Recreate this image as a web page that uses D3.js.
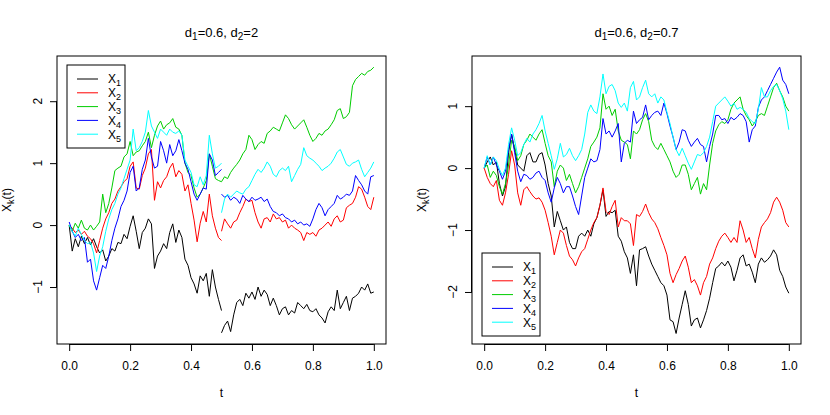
<!DOCTYPE html>
<html lang="en">
<head>
<meta charset="utf-8">
<script src="https://cdnjs.cloudflare.com/ajax/libs/d3/7.8.5/d3.min.js"></script>
<style>
  body { margin: 0; background: #fff; }
  svg text { font-family: "Liberation Sans", Arial, Helvetica, sans-serif; fill: #000; }
</style>
</head>
<body>
<svg width="830" height="415"></svg>
<script>
// ---- data (value per t step of 0.01) ----
var seriesNames = ["1", "2", "3", "4", "5"];
var seriesColors = ["#000000", "#ff0000", "#00cd00", "#0000ff", "#00ffff"];
var xTicks = [0, 0.2, 0.4, 0.6, 0.8, 1.0];
var yTicksLeft = [-1, 0, 1, 2];
var yTicksRight = [-2, -1, 0, 1];
var yDomainLeft = [-1.92, 2.73];
var yDomainRight = [-2.84, 1.81];

// left panel: paths jump at t = 0.5, so two pieces each (t 0..0.5 and 0.5..1)
var leftX1pre = [0.0, -0.42, -0.22, -0.35, -0.18, -0.3, -0.2, -0.32, -0.22, -0.35,
  -0.45, -0.4, -0.58, -0.5, -0.38, -0.42, -0.28, -0.3, -0.15, -0.22,
  -0.02, 0.15, -0.1, -0.38, -0.12, -0.05, 0.1, 0.02, -0.7, -0.5,
  -0.42, -0.3, -0.38, -0.12, 0.02, -0.28, -0.08, -0.2, -0.55, -0.65,
  -0.85, -0.95, -1.1, -0.82, -0.9, -0.78, -1.15, -0.72, -1.0, -1.2,
  -1.38];
var leftX1post = [-1.74, -1.62, -1.55, -1.72, -1.45, -1.25, -1.2, -1.3, -1.1, -1.18,
  -1.08, -1.2, -1.0, -1.15, -1.05, -1.12, -1.3, -1.18, -1.3, -1.45,
  -1.35, -1.32, -1.45, -1.38, -1.42, -1.25, -1.3, -1.35, -1.28, -1.38,
  -1.4, -1.35, -1.45, -1.5, -1.58, -1.4, -1.32, -1.38, -1.05, -1.35,
  -1.25, -1.15, -1.38, -1.18, -1.15, -1.1, -1.0, -1.05, -0.95, -1.1,
  -1.08];
var leftX2pre = [0.0, -0.05, -0.12, -0.08, -0.15, -0.1, -0.18, -0.22, -0.3, -0.45,
  -0.25, -0.05, 0.1, 0.2, 0.35, 0.42, 0.55, 0.62, 0.7, 0.75,
  0.95, 1.02, 0.6, 0.58, 0.8, 0.92, 1.15, 1.22, 0.4, 0.7,
  0.6, 0.72, 0.78, 0.92, 1.0, 0.78, 0.88, 0.82, 0.55, 0.65,
  0.35, 0.08, -0.27, 0.03, 0.22, 0.05, 0.5, 0.15, -0.05, -0.2,
  -0.25];
var leftX2post = [-0.1, 0.1, 0.02, -0.05, 0.05, 0.08, 0.2, 0.3, 0.42, 0.38,
  0.4, 0.2, 0.05, -0.05, 0.1, 0.12, 0.05, 0.18, 0.1, 0.12,
  0.05, 0.08, -0.05, 0.0, -0.05, -0.08, -0.12, -0.25, -0.12, -0.15,
  -0.12, -0.18, -0.08, -0.05, 0.0, 0.05, -0.02, 0.1, 0.15, 0.05,
  0.08, 0.28, 0.32, 0.35, 0.45, 0.62, 0.58, 0.45, 0.3, 0.25,
  0.45];
var leftX3pre = [0.0, -0.1, 0.03, -0.05, 0.08, -0.05, -0.08, 0.0, -0.08, -0.02,
  0.05, 0.5, 0.2, 0.35, 0.6, 0.88, 0.92, 0.95, 1.1, 1.15,
  1.35, 1.12, 1.18, 1.2, 1.28, 1.35, 1.5, 1.25, 1.45, 1.6,
  1.68, 1.55, 1.62, 1.65, 1.72, 1.58, 1.55, 1.45, 1.0, 0.85,
  0.8, 0.6, 0.45, 0.5, 0.6, 0.72, 1.15, 0.95, 0.75, 0.72,
  0.7];
var leftX3post = [0.7, 0.78, 0.75, 0.85, 0.92, 0.98, 1.05, 1.15, 1.22, 1.45,
  1.38, 1.22, 1.3, 1.35, 1.32, 1.48, 1.52, 1.58, 1.55, 1.52,
  1.65, 1.78, 1.72, 1.62, 1.55, 1.6, 1.65, 1.7, 1.58, 1.45,
  1.35, 1.4, 1.48, 1.45, 1.52, 1.55, 1.62, 1.7, 1.85, 1.88,
  1.72, 1.75, 1.82, 2.25, 2.35, 2.4, 2.45, 2.42, 2.48, 2.5,
  2.55];
var leftX4pre = [0.05, -0.1, -0.2, -0.15, -0.25, -0.2, -0.6, -0.55, -0.9, -1.05,
  -0.85, -0.65, -0.7, -0.5, -0.25, -0.05, 0.1, 0.3, 0.4, 0.55,
  0.85, 0.95, 0.55, 0.6, 0.9, 1.05, 1.4, 1.1, 0.92, 0.95,
  1.35, 1.2, 1.0, 1.3, 1.12, 1.2, 1.38, 1.2, 1.0, 0.9,
  0.7, 0.5, 0.4, 0.5, 0.6, 0.58, 1.15, 1.05, 0.8, 0.85,
  0.9];
var leftX4post = [0.5, 0.45, 0.48, 0.4, 0.45, 0.42, 0.35, 0.48, 0.42, 0.38,
  0.45, 0.4, 0.42, 0.45, 0.38, 0.42, 0.3, 0.22, 0.2, 0.15,
  0.18, 0.12, 0.1, 0.05, 0.08, 0.02, 0.05, 0.0, 0.02, -0.02,
  0.1, 0.25, 0.35, 0.28, 0.15, 0.25, 0.3, 0.35, 0.48, 0.42,
  0.45, 0.5, 0.48, 0.55, 0.8, 0.72, 0.65, 0.55, 0.5, 0.78,
  0.8];
var leftX5pre = [0.0, -0.1, -0.18, -0.05, -0.15, -0.25, -0.3, -0.28, -0.45, -0.75,
  -0.5, -0.35, -0.1, 0.1, 0.25, 0.35, 0.5, 0.6, 0.75, 0.9,
  1.05, 1.55, 1.2, 1.25, 1.35, 1.5, 1.85, 1.6, 1.5, 1.4,
  1.55, 1.5, 1.45, 1.55, 1.5, 1.48, 1.52, 1.45, 1.05, 0.95,
  0.85, 0.65, 0.62, 0.78, 0.65, 0.8, 1.45, 1.15, 0.92, 0.95,
  1.0];
var leftX5post = [0.2, 0.42, 0.5, 0.45, 0.5, 0.55, 0.52, 0.5, 0.58, 0.62,
  0.72, 0.82, 0.9, 0.85, 0.92, 1.02, 0.95, 0.82, 0.78, 0.88,
  0.92, 0.88, 0.95, 0.7, 0.8, 0.9, 0.98, 1.25, 1.12, 1.08,
  1.05, 1.0, 0.95, 0.88, 0.92, 0.95, 1.0, 1.08, 1.18, 1.22,
  1.1, 0.98, 0.95, 1.0, 1.02, 1.05, 0.9, 0.78, 0.85, 0.92,
  1.02];

// right panel: continuous paths, t 0..1
var rightX1 = [0.0, 0.1, 0.18, 0.05, 0.1, -0.25, -0.45, -0.3, 0.25, 0.55,
  0.3, 0.05, 0.0, -0.05, 0.2, 0.25, 0.1, 0.1, 0.22, 0.25,
  0.05, -0.25, -0.45, -0.95, -0.7, -0.85, -1.0, -0.95, -1.2, -1.3,
  -1.3, -1.1, -1.05, -1.1, -1.0, -1.1, -0.9, -0.8, -0.6, -0.35,
  -0.78, -0.7, -0.72, -0.68, -1.1, -1.18, -1.35, -1.45, -1.7, -1.4,
  -1.9, -1.32, -1.3, -1.27, -1.42, -1.55, -1.65, -1.75, -1.85, -1.9,
  -2.05, -2.45, -2.48, -2.67, -2.42, -2.2, -1.98, -2.2, -2.55, -2.45,
  -2.42, -2.58, -2.45, -2.3, -2.1, -1.85, -1.62, -1.58, -1.52, -1.58,
  -1.5, -1.6, -1.82, -1.65, -1.45, -1.4, -1.58, -1.55, -1.68, -1.85,
  -1.55, -1.45, -1.52, -1.48, -1.42, -1.32, -1.4, -1.65, -1.75, -1.92,
  -2.02];
var rightX2 = [0.0, -0.15, -0.25, -0.3, -0.2, -0.52, -0.6, -0.4, -0.1, 0.28,
  0.05, -0.4, -0.6, -0.35, -0.3, -0.38, -0.45, -0.5, -0.48, -0.55,
  -0.68, -0.88, -1.1, -1.4, -1.2, -1.0, -1.05, -1.25, -1.42, -1.48,
  -1.58, -1.45, -1.35, -1.3, -1.15, -1.0, -0.88, -0.8, -0.6, -0.32,
  -0.7, -0.75, -0.62, -0.52, -0.95, -0.8, -0.85, -0.85, -0.9, -1.25,
  -0.75, -0.78, -0.7, -0.58, -0.72, -0.82, -0.88, -0.98, -1.12, -1.25,
  -1.4, -1.7, -1.85, -1.72, -1.62, -1.5, -1.42, -1.6, -1.85, -1.8,
  -1.9, -2.05, -1.85, -1.75, -1.55, -1.45, -1.3, -1.18, -1.1, -1.05,
  -1.12, -1.2, -1.12, -1.2, -0.85, -1.0, -1.2, -1.12, -1.3, -1.45,
  -1.15, -0.95, -0.88, -0.82, -0.72, -0.55, -0.47, -0.55, -0.68, -0.88,
  -0.95];
var rightX3 = [0.0, 0.05, -0.15, -0.05, -0.12, -0.3, -0.42, -0.25, 0.05, 0.45,
  0.35, 0.12, 0.2, 0.38, 0.45, 0.55, 0.5, 0.45, 0.55, 0.62,
  0.4, 0.2, 0.1, -0.3, -0.05, 0.05, 0.0, -0.2, -0.1, -0.25,
  -0.4, -0.3, -0.15, 0.0, 0.15, 0.35, 0.42, 0.5, 0.65, 1.2,
  0.95, 1.0, 0.85, 0.95, 0.6, 0.45, 0.42, 0.38, 0.15, 0.6,
  0.55, 0.62, 0.78, 0.88, 0.75, 0.45, 0.35, 0.3, 0.4, 0.3,
  0.2, 0.1, -0.05, -0.15, -0.1, 0.05, 0.05, -0.1, -0.35, -0.25,
  -0.15, -0.42, -0.25, -0.35, 0.05, 0.4, 0.6, 0.7, 0.75, 0.72,
  0.78, 0.95, 1.05, 1.1, 1.15, 0.95, 0.85, 0.78, 0.68, 0.75,
  0.85, 0.88, 0.85, 1.0, 1.15, 1.3, 1.37, 1.25, 1.15, 1.0,
  0.92];
var rightX4 = [0.0, 0.18, 0.05, 0.18, 0.05, -0.05, -0.18, -0.05, 0.3, 0.55,
  0.25, -0.05, -0.22, -0.1, -0.12, -0.18, -0.15, -0.08, -0.05, -0.15,
  -0.2, -0.4, -0.55, -0.32, -0.15, -0.25, -0.4, -0.3, -0.3, -0.45,
  -0.62, -0.75, -0.45, -0.15, 0.0, 0.15, 0.1, 0.12, 0.3, 0.8,
  0.55, 0.6, 0.5, 0.6, 0.72, 0.1, 0.4, 0.45, 0.42, 0.92,
  0.72, 0.78, 0.82, 1.02, 0.78, 0.85, 0.9, 0.92, 0.85, 1.05,
  0.88, 0.68, 0.5, 0.3, 0.42, 0.62, 0.6, 0.45, 0.35, 0.42,
  0.48, 0.38, 0.35, 0.1, 0.35, 0.55, 0.85, 0.85, 0.78, 0.8,
  0.72, 0.82, 0.78, 0.82, 0.88, 0.85, 0.75, 0.42, 0.62, 0.68,
  0.98, 1.1, 1.15, 1.25, 1.35, 1.45, 1.55, 1.63, 1.42, 1.35,
  1.2];
var rightX5 = [0.0, 0.2, 0.05, 0.18, 0.12, -0.02, -0.12, 0.0, 0.38, 0.65,
  0.45, 0.2, 0.25, 0.38, 0.48, 0.42, 0.55, 0.62, 0.72, 0.85,
  0.6, 0.4, 0.2, -0.02, 0.15, 0.4, 0.18, 0.22, 0.32, 0.2,
  0.12, 0.2, 0.3, 0.55, 0.9, 1.02, 0.92, 0.88, 1.15, 1.52,
  1.2, 1.32, 1.35, 1.25, 1.05, 0.98, 1.05, 0.92, 1.3, 1.4,
  1.1, 1.15, 1.3, 1.42, 1.2, 1.15, 1.2, 1.05, 1.15, 1.1,
  0.9, 0.72, 0.5, 0.3, 0.2, 0.32, 0.2, 0.08, -0.02, 0.1,
  0.22, 0.2, 0.25, 0.35, 0.5, 0.75, 1.0, 1.05, 1.1, 1.15,
  1.08, 1.0, 1.05, 0.95, 0.98, 0.95, 0.9, 0.8, 0.75, 0.72,
  0.95, 1.3, 1.15, 1.15, 1.25, 1.32, 1.35, 1.25, 1.12, 0.92,
  0.62];

// ---- panels ----
var svg = d3.select("svg");
svg.append("rect").attr("width", 830).attr("height", 415).attr("fill", "#fff");

var leftPieces = [
  [leftX1pre, leftX1post], [leftX2pre, leftX2post], [leftX3pre, leftX3post],
  [leftX4pre, leftX4post], [leftX5pre, leftX5post]
];
var rightPieces = [[rightX1], [rightX2], [rightX3], [rightX4], [rightX5]];

var panels = [
  { left: 57, right: 386, top: 56, bottom: 344, d2: "2", yDomain: yDomainLeft, yTicks: yTicksLeft,
    pieces: leftPieces, starts: [0, 0.5], legend: { x: 67, y: 65 } },
  { left: 472, right: 801, top: 56, bottom: 344, d2: "0.7", yDomain: yDomainRight, yTicks: yTicksRight,
    pieces: rightPieces, starts: [0], legend: { x: 482, y: 253 } }
];

panels.forEach(function (p) {
  var x = d3.scaleLinear().domain([-0.04, 1.04]).range([p.left, p.right]);
  var y = d3.scaleLinear().domain(p.yDomain).range([p.bottom, p.top]);
  var g = svg.append("g");
  var cx = (p.left + p.right) / 2;

  // title  d1=0.6, d2=...
  var title = g.append("text").attr("x", cx).attr("y", 37)
      .attr("text-anchor", "middle").style("font-size", "13px");
  title.append("tspan").text("d");
  title.append("tspan").attr("dy", 3).style("font-size", "10px").text("1");
  title.append("tspan").attr("dy", -3).text("=0.6, d");
  title.append("tspan").attr("dy", 3).style("font-size", "10px").text("2");
  title.append("tspan").attr("dy", -3).text("=" + p.d2);

  // lines
  var line = d3.line().x(function (d) { return x(d[0]); }).y(function (d) { return y(d[1]); });
  p.pieces.forEach(function (pieces, k) {
    pieces.forEach(function (vals, j) {
      var pts = vals.map(function (v, i) { return [p.starts[j] + i / 100, v]; });
      g.append("path").datum(pts)
        .attr("d", line)
        .attr("fill", "none")
        .attr("stroke", seriesColors[k])
        .attr("stroke-width", 1)
        .attr("stroke-linejoin", "round");
    });
  });

  // box
  g.append("rect").attr("x", p.left).attr("y", p.top)
    .attr("width", p.right - p.left).attr("height", p.bottom - p.top)
    .attr("fill", "none").attr("stroke", "#000").attr("stroke-width", 1);

  // x axis
  var xa = g.append("g").attr("transform", "translate(0," + p.bottom + ")")
    .call(d3.axisBottom(x).tickValues(xTicks).tickSize(7).tickSizeOuter(0)
      .tickPadding(10).tickFormat(d3.format(".1f")));
  xa.select(".domain").attr("d", "M" + x(0) + ",0.5H" + x(1));
  xa.selectAll("text").style("font-size", "12px").attr("fill", "#000")
    .style("font-family", "'Liberation Sans', Arial, sans-serif");

  // y axis (labels rotated like base R)
  var ya = g.append("g").attr("transform", "translate(" + p.left + ",0)")
    .call(d3.axisLeft(y).tickValues(p.yTicks).tickSize(7).tickSizeOuter(0).tickFormat(""));
  ya.select(".domain").attr("d", "M-0.5," + y(p.yTicks[0]) + "V" + y(p.yTicks[p.yTicks.length - 1]));
  p.yTicks.forEach(function (v) {
    g.append("text")
      .attr("transform", "translate(" + (p.left - 15.5) + "," + y(v) + ") rotate(-90)")
      .attr("text-anchor", "middle").style("font-size", "12px").text(d3.format("d")(v));
  });

  // axis titles
  g.append("text").attr("x", cx).attr("y", 397).attr("text-anchor", "middle")
    .style("font-size", "12px").text("t");
  var yl = g.append("text")
    .attr("transform", "translate(" + (p.left - 46.5) + "," + ((p.top + p.bottom) / 2) + ") rotate(-90)")
    .attr("text-anchor", "middle").style("font-size", "12px");
  yl.append("tspan").text("X");
  yl.append("tspan").attr("dy", 3).style("font-size", "9px").text("k");
  yl.append("tspan").attr("dy", -3).text("(t)");

  // legend
  var lg = g.append("g").attr("transform", "translate(" + p.legend.x + "," + p.legend.y + ")");
  lg.append("rect").attr("x", 0).attr("y", 0).attr("width", 58).attr("height", 83)
    .attr("fill", "#fff").attr("stroke", "#000").attr("stroke-width", 1);
  seriesNames.forEach(function (n, i) {
    var ry = 14 + i * 13.8;
    lg.append("line").attr("x1", 10).attr("x2", 31).attr("y1", ry).attr("y2", ry)
      .attr("stroke", seriesColors[i]).attr("stroke-width", 1);
    var t = lg.append("text").attr("x", 41).attr("y", ry + 4.3).style("font-size", "12px");
    t.append("tspan").text("X");
    t.append("tspan").attr("dy", 3).style("font-size", "9px").text(n);
  });
});
</script>
</body>
</html>
